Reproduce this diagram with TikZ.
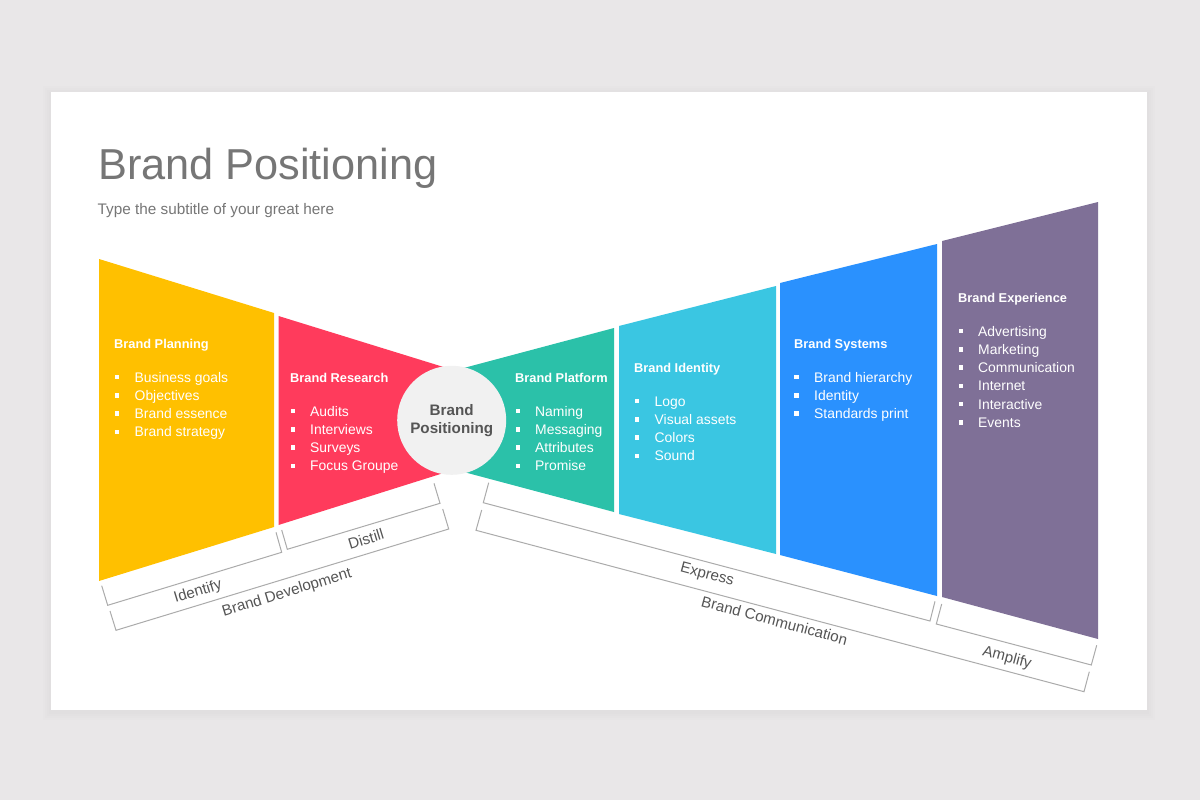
\documentclass[tikz,border=0pt]{standalone}
\usepackage{fontspec}
\setmainfont{Liberation Sans}
\definecolor{pageback}{HTML}{E9E7E8}
\definecolor{cyellow}{HTML}{FFC000}
\definecolor{cred}{HTML}{FF3B5C}
\definecolor{cteal}{HTML}{2BC1A9}
\definecolor{ccyan}{HTML}{3AC6E2}
\definecolor{cblue}{HTML}{2A91FE}
\definecolor{cpurple}{HTML}{7F7097}
\definecolor{chub}{HTML}{F1F1F1}
\definecolor{cdark}{HTML}{555555}
\definecolor{ctitle}{HTML}{767676}
\definecolor{cbrack}{HTML}{ABABAB}
\tikzset{
  headtxt/.style={anchor=base west,inner sep=0pt,text=white,font=\fontsize{12.8}{16}\selectfont\bfseries},
  itemtxt/.style={anchor=base west,inner sep=0pt,text=white,font=\fontsize{13.9}{16}\selectfont},
  bulletdot/.style={fill=white,draw=none,minimum size=4.4pt,inner sep=0pt,rectangle},
  brackline/.style={draw=cbrack,line width=1pt},
  bracklabel/.style={inner sep=0pt,text=cdark,font=\fontsize{15.2}{17}\selectfont},
}
\newcommand{\blocktext}[3]{%
  \node[headtxt] (#1head) at (#2,#3+5) {\blockhead};
}
\newcommand{\itemlist}[5]{%
  \foreach \itemname [count=\idx] in {#5} {
    \pgfmathsetmacro{\yy}{#4+34+18.3*(\idx-1)}
    \node[bulletdot] (#1b\idx) at (#2,\yy) {};
    \node[itemtxt] (#1t\idx) at (#3,\yy+5) {\itemname};
  }
}
\begin{document}
\begin{tikzpicture}[x=1pt,y=-1pt]
\useasboundingbox (0,0) rectangle (1200,800);
\fill[pageback] (0,0) rectangle (1200,800);
% card with soft shadow
\foreach \g in {8,6,4,2}
  \fill[black,opacity=0.006] (51-\g,92-\g+2) rectangle (1147+\g,710+\g+2);
\fill[white] (51,92) rectangle (1147,710);
% title
\node[anchor=base west,inner sep=0pt,text=ctitle,font=\fontsize{43.3}{50}\selectfont] (title) at (98,179) {Brand Positioning};
\node[anchor=base west,inner sep=0pt,text=ctitle,font=\fontsize{15.3}{18}\selectfont] (subtitle) at (97.5,214) {Type the subtitle of your great here};
% segments
\fill[cyellow] (99,259) -- (274,313) -- (274,527) -- (99,581) -- cycle;
\fill[cred] (278.5,316) -- (450,369) -- (450,471) -- (278.5,525) -- cycle;
\fill[cteal] (460,369) -- (614,328) -- (614,512) -- (460,471) -- cycle;
\fill[ccyan] (619,326) -- (776,286) -- (776,554) -- (619,514) -- cycle;
\fill[cblue] (780,283) -- (937,244) -- (937,596) -- (780,555) -- cycle;
\fill[cpurple] (942,241) -- (1098,202) -- (1098,639) -- (942,597) -- cycle;
% hub
\node[circle,fill=chub,minimum size=109pt,inner sep=0pt,align=center,text=cdark,font=\fontsize{15.2}{18.3}\selectfont\bfseries] (hub) at (451.7,420.3) {Brand\\Positioning};
% block texts
\def\blockhead{Brand Planning}\blocktext{pl}{114}{343}
\itemlist{pl}{117}{134.5}{343}{Business goals,Objectives,Brand essence,Brand strategy}
\def\blockhead{Brand Research}\blocktext{re}{290}{377}
\itemlist{re}{293}{310}{377}{Audits,Interviews,Surveys,Focus Groupe}
\def\blockhead{Brand Platform}\blocktext{pf}{515}{377}
\itemlist{pf}{518}{535}{377}{Naming,Messaging,Attributes,Promise}
\def\blockhead{Brand Identity}\blocktext{id}{634}{367}
\itemlist{id}{637}{654.5}{367}{Logo,Visual assets,Colors,Sound}
\def\blockhead{Brand Systems}\blocktext{sy}{794}{343}
\itemlist{sy}{796.5}{814}{343}{Brand hierarchy,Identity,Standards print}
\def\blockhead{Brand Experience}\blocktext{ex}{958}{297}
\itemlist{ex}{961}{978}{297}{Advertising,Marketing,Communication,Internet,Interactive,Events}
% brackets
\draw[brackline] (101.7,585.7) -- (107.7,605.3) -- (281.7,552.3) -- (276,532.3);
\draw[brackline] (281.7,530) -- (287.3,549.3) -- (440,503.3) -- (434,483.3);
\draw[brackline] (110,611) -- (116,630.3) -- (448.7,529) -- (442.7,509);
\draw[brackline] (488.7,482.7) -- (483.3,502.7) -- (930,621) -- (935,601.3);
\draw[brackline] (481.7,510) -- (476,530.3) -- (1084,691.7) -- (1089.3,671.7);
\draw[brackline] (941.7,604) -- (936.3,624) -- (1091.3,665) -- (1096.7,645.3);
% bracket labels
\node[bracklabel,rotate=17] (lidentify) at (198,592) {Identify};
\node[bracklabel,rotate=17] (ldistill) at (366,539) {Distill};
\node[bracklabel,rotate=17] (ldev) at (287,593) {Brand Development};
\node[bracklabel,rotate=-15] (lexpress) at (707,575) {Express};
\node[bracklabel,rotate=-15] (lcomm) at (774.5,620.5) {Brand Communication};
\node[bracklabel,rotate=-15] (lamplify) at (1007,658) {Amplify};
\end{tikzpicture}
\end{document}
